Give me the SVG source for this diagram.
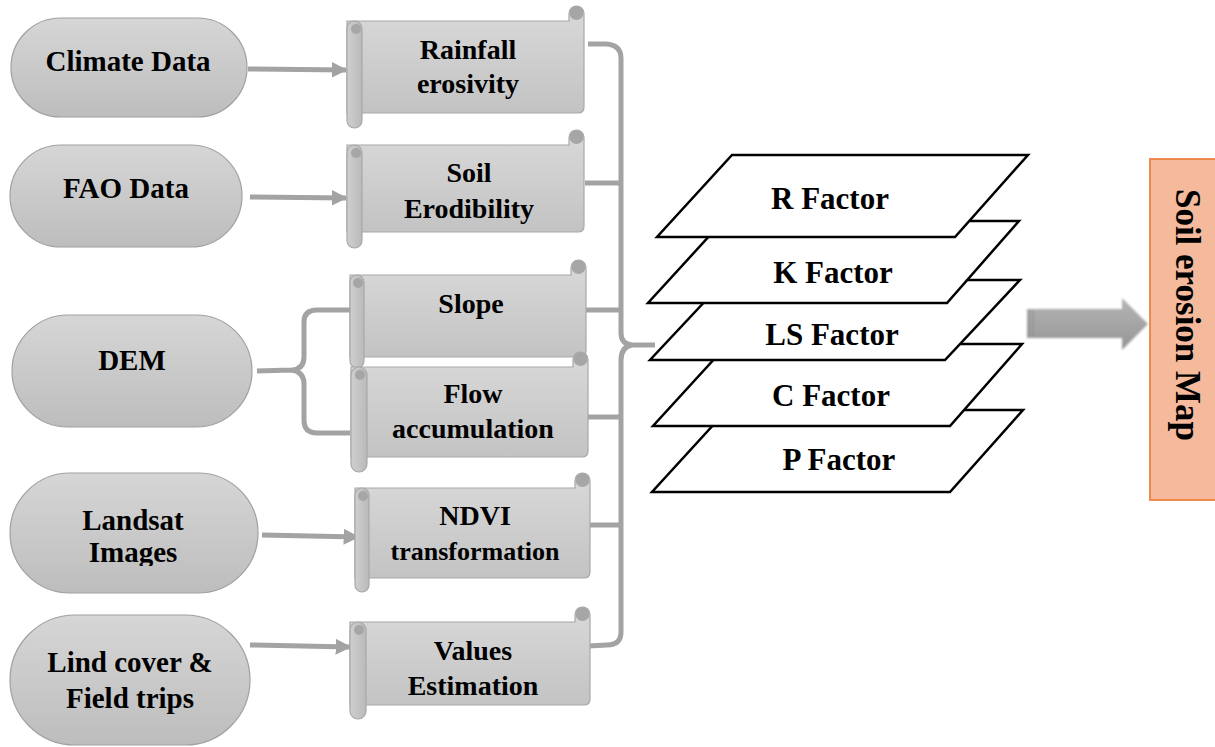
<svg xmlns="http://www.w3.org/2000/svg" width="1215" height="747" viewBox="0 0 1215 747">
<defs>
<linearGradient id="gNode" x1="0" y1="0" x2="0" y2="1"><stop offset="0" stop-color="#d6d6d6"/><stop offset="1" stop-color="#bdbdbd"/></linearGradient>
<linearGradient id="gBody" x1="0" y1="0" x2="0" y2="1"><stop offset="0" stop-color="#d9d9d9"/><stop offset="1" stop-color="#c3c3c3"/></linearGradient>
<linearGradient id="gRoll" x1="0" y1="0" x2="1" y2="0"><stop offset="0" stop-color="#cfcfcf"/><stop offset="1" stop-color="#bababa"/></linearGradient>
<linearGradient id="gArrow" x1="0" y1="0" x2="0" y2="1"><stop offset="0" stop-color="#b4b4b4"/><stop offset="1" stop-color="#969696"/></linearGradient>
<filter id="soft" x="-10%" y="-30%" width="120%" height="160%"><feGaussianBlur stdDeviation="0.9"/></filter>
<clipPath id="clipLand"><rect x="0" y="470" width="300" height="96"/></clipPath>
<marker id="ah" viewBox="0 0 10 10" refX="9" refY="5" markerWidth="3.2" markerHeight="3.2" orient="auto" markerUnits="strokeWidth"><path d="M0,0 L10,5 L0,10 Z" fill="#a3a3a3"/></marker>
<style>
.node{fill:url(#gNode);stroke:#a0a0a0;stroke-width:1.2}
.body{fill:url(#gBody);stroke:#a8a8a8;stroke-width:1.2}
.roll{fill:url(#gRoll);stroke:#a8a8a8;stroke-width:1.2}
.curl{fill:#a6a6a6}
.t{font-family:"Liberation Serif","Times New Roman",serif;font-weight:bold;fill:#000;text-anchor:middle}
.n{font-size:29px}
.s{font-size:28px}
.f{font-size:31px}
.con{fill:none;stroke:#a3a3a3;stroke-width:5}
.arr{fill:none;stroke:#a3a3a3;stroke-width:5;marker-end:url(#ah)}
.layer{fill:#fff;stroke:#000;stroke-width:2.5;stroke-linejoin:miter}
</style>
</defs>
<rect width="1215" height="747" fill="#fff"/>

<g id="connectors">
<line class="arr" x1="248" y1="69" x2="346" y2="70"/>
<line class="arr" x1="250" y1="197" x2="346" y2="198"/>
<line class="arr" x1="262" y1="535" x2="358" y2="537"/>
<line class="arr" x1="250" y1="645" x2="350" y2="647"/>
<path class="con" d="M350,310 L317,310 Q304,310 304,322 L304,357 Q304,369 292,370 L257,371 M292,370 Q304,372 304,384 L304,420 Q304,433 317,433 L350,433"/>
<path class="con" d="M588,44 L606,44 Q621,45 621,58 L621,333 Q621,344 632,345 L655,345 M632,345 Q621,347 621,360 L621,632 Q621,645 607,645 L588,646"/>
<path class="con" d="M585,183 H621 M586,310 H621 M588,417 H621 M590,525 H621"/>
</g>

<g id="node-climate"><rect class="node" x="11" y="18" width="236" height="99" rx="49.5"/><text class="t n" x="128" y="71">Climate Data</text></g>
<g id="node-fao"><rect class="node" x="10" y="145" width="232" height="102" rx="51"/><text class="t n" x="126" y="198">FAO Data</text></g>
<g id="node-dem"><rect class="node" x="12" y="315" width="240" height="112" rx="56"/><text class="t n" x="132" y="370">DEM</text></g>
<g id="node-landsat"><rect class="node" x="10" y="473" width="248" height="120" rx="60"/><g clip-path="url(#clipLand)"><text class="t n" x="133" y="530">Landsat</text><text class="t n" x="133" y="562">Images</text></g></g>
<g id="node-lind"><rect class="node" x="10" y="615" width="240" height="130" rx="65"/><text class="t n" x="130" y="672">Lind cover &amp;</text><text class="t n" x="130" y="708">Field trips</text></g>

<g id="scroll-rainfall">
<path class="body" d="M347,21 H569 V13.5 A7.5,7.5 0 0 1 584,13.5 V107 Q584,113 578,113 H347 Z"/>
<circle class="curl" cx="576.5" cy="13" r="7"/>
<rect class="roll" x="347" y="21" width="15" height="107" rx="7.5"/>
<circle class="curl" cx="356" cy="29" r="5"/>
<text class="t s" x="468" y="59">Rainfall</text><text class="t s" x="468" y="93">erosivity</text>
</g>
<g id="scroll-soil">
<path class="body" d="M347,145 H569 V137.5 A7.5,7.5 0 0 1 584,137.5 V226 Q584,232 578,232 H347 Z"/>
<circle class="curl" cx="576.5" cy="137" r="7"/>
<rect class="roll" x="347" y="145" width="15" height="103" rx="7.5"/>
<circle class="curl" cx="356" cy="153" r="5"/>
<text class="t s" x="469" y="182">Soil</text><text class="t s" x="469" y="218">Erodibility</text>
</g>
<g id="scroll-slope">
<path class="body" d="M350,275 H571 V267.5 A7.5,7.5 0 0 1 586,267.5 V351 Q586,357 580,357 H350 Z"/>
<circle class="curl" cx="578.5" cy="267" r="7"/>
<rect class="roll" x="350" y="275" width="14" height="93" rx="7"/>
<circle class="curl" cx="358" cy="283" r="5"/>
<text class="t s" x="471" y="313">Slope</text>
</g>
<g id="scroll-flow">
<path class="body" d="M351,367 H573 V359.5 A7.5,7.5 0 0 1 588,359.5 V451 Q588,457 582,457 H351 Z"/>
<circle class="curl" cx="580.5" cy="359" r="7"/>
<rect class="roll" x="351" y="367" width="16" height="105" rx="8"/>
<circle class="curl" cx="360" cy="375" r="5"/>
<text class="t s" x="473" y="403">Flow</text><text class="t s" x="473" y="438">accumulation</text>
</g>
<g id="scroll-ndvi">
<path class="body" d="M355,488 H575 V480.5 A7.5,7.5 0 0 1 590,480.5 V572 Q590,578 584,578 H355 Z"/>
<circle class="curl" cx="582.5" cy="480" r="7"/>
<rect class="roll" x="355" y="488" width="14" height="104" rx="7"/>
<circle class="curl" cx="363" cy="496" r="5"/>
<text class="t s" x="475" y="525">NDVI</text><text class="t" style="font-size:26px" x="475" y="560">transformation</text>
</g>
<g id="scroll-values">
<path class="body" d="M350,622 H575 V614.5 A7.5,7.5 0 0 1 590,614.5 V699 Q590,705 584,705 H350 Z"/>
<circle class="curl" cx="582.5" cy="614" r="7"/>
<rect class="roll" x="350" y="622" width="16" height="97" rx="8"/>
<circle class="curl" cx="359" cy="630" r="5"/>
<text class="t s" x="473" y="660">Values</text><text class="t s" x="473" y="695">Estimation</text>
</g>

<g id="layer-p"><polygon class="layer" points="727,410 1023,410 950,492 652,492"/><text class="t f" x="839" y="470">P Factor</text></g>
<g id="layer-c"><polygon class="layer" points="728,344 1022,344 950,426 653,426"/><text class="t f" x="831" y="406">C Factor</text></g>
<g id="layer-ls"><polygon class="layer" points="725,280 1020,280 945,360 650,360"/><text class="t f" x="832" y="345">LS Factor</text></g>
<g id="layer-k"><polygon class="layer" points="723,221 1019,221 947,303 648,303"/><text class="t f" x="833" y="283">K Factor</text></g>
<g id="layer-r"><polygon class="layer" points="732,155 1028,155 955,237 657,237"/><text class="t f" x="830" y="209">R Factor</text></g>

<g id="big-arrow" filter="url(#soft)">
<path d="M1027,309 H1122 V298 L1148,324 L1122,350 V338 H1027 Z" fill="url(#gArrow)"/>
<path d="M1029,310 V337 M1033,310 V337" stroke="#8c8c8c" stroke-width="1.2"/>
</g>

<g id="node-map">
<rect x="1150" y="159" width="75" height="341" fill="#f5b99c" stroke="#ee8140" stroke-width="1.8"/>
<text class="t" style="font-size:35px" transform="translate(1176,315) rotate(90)">Soil erosion Map</text>
</g>
</svg>
